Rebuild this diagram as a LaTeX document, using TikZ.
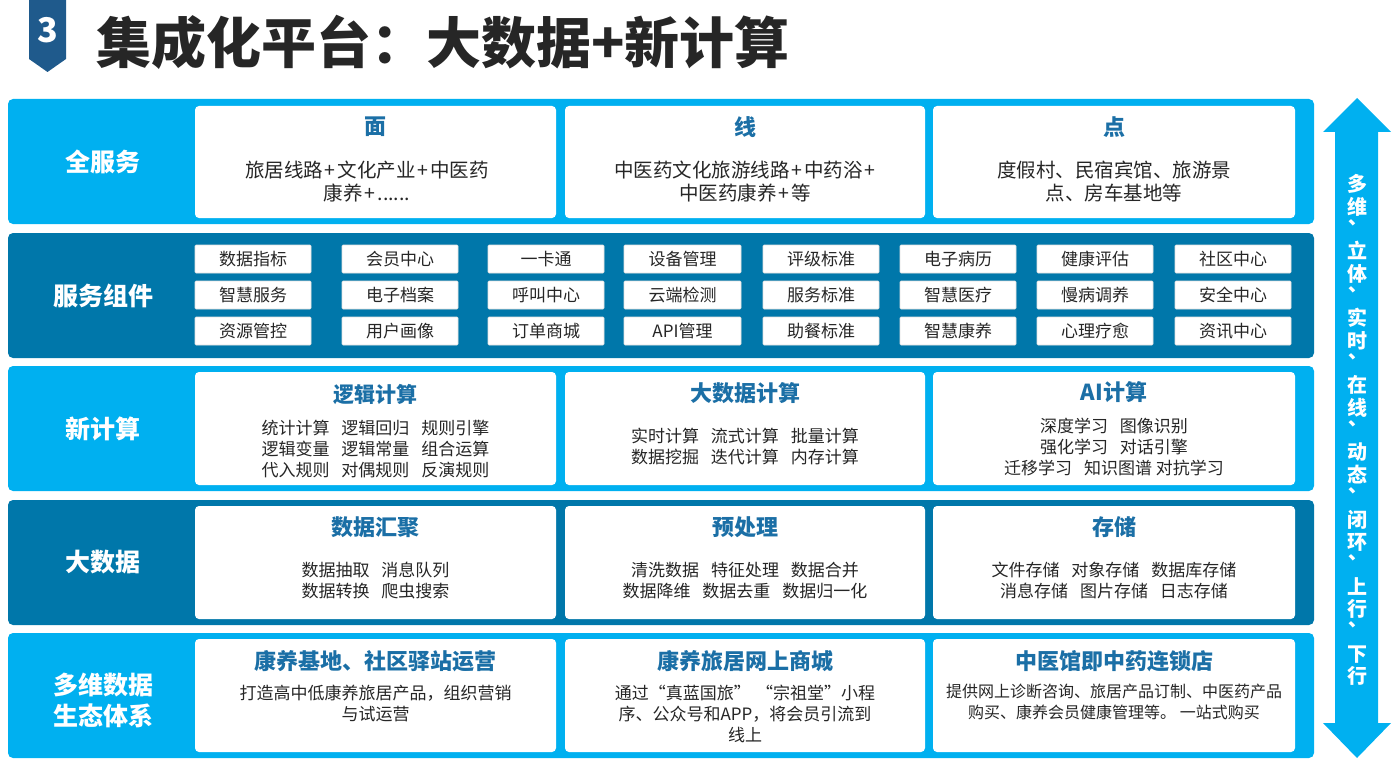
\documentclass[tikz,border=0pt]{standalone}
\usepackage{fontspec}
\setmainfont{Noto Sans CJK SC}
\definecolor{lb}{HTML}{00B0F0}
\definecolor{db}{HTML}{0077AA}
\definecolor{badge}{HTML}{1F5A8C}
\definecolor{tb}{HTML}{1B6FA6}
\definecolor{tx}{HTML}{262626}
\tikzset{
  lightband/.style={fill=lb, rounded corners=5pt},
  darkband/.style={fill=db, rounded corners=5pt},
  wbox/.style={fill=white, rounded corners=4pt},
  sbox/.style={fill=white, draw=black!12, line width=0.6pt, rounded corners=1pt},
  lbl/.style={text=white, font=\bfseries\fontsize{25}{31}\selectfont, align=center, inner sep=0pt},
  ttl/.style={text=tb, font=\bfseries\fontsize{22}{26}\selectfont, inner sep=0pt},
  body/.style={text=tx, font=\fontsize{17}{21}\selectfont, align=center, inner sep=0pt},
  topbody/.style={text=tx, font=\fontsize{19.5}{23}\selectfont, align=center, inner sep=0pt},
  stxt/.style={text=tx, font=\fontsize{17}{20}\selectfont, inner sep=0pt},
}
\newcommand{\gapsp}{\hspace{0.7em}}
\newcommand{\pl}{\hspace{0.1em}+\hspace{0.1em}}
\newcommand{\vcm}{\makebox[0pt]{\hspace*{-22pt}︑}}
\begin{document}
\begin{tikzpicture}[x=1pt,y=-1pt]
\useasboundingbox (0,0) rectangle (1393,781);
% badge and title
\fill[badge] (29,0) -- (66,0) -- (66,59) -- (47.5,72) -- (29,59) -- cycle;
\node[text=white, font=\bfseries\fontsize{34}{36}\selectfont, inner sep=0pt] (num) at (47.5,30) {3};
\node[text=tx, font=\bfseries\fontsize{55}{58}\selectfont, anchor=west, inner sep=0pt] (title) at (96,42) {集成化平台：大数据+新计算};

% bands
\fill[lightband] (8,99) rectangle (1314,224);
\fill[darkband] (8,233) rectangle (1314,358);
\fill[lightband] (8,366) rectangle (1314,491);
\fill[darkband] (8,500) rectangle (1314,625);
\fill[lightband] (8,633) rectangle (1314,758);

% left labels
\node[lbl] (l1) at (103,162) {全服务};
\node[lbl] (l2) at (103,296) {服务组件};
\node[lbl] (l3) at (103,429) {新计算};
\node[lbl] (l4) at (103,562) {大数据};
\node[lbl] (l5) at (103,700) {多维数据\\生态体系};

% white boxes
\foreach \a/\b/\n in {195/556/1,565/925/2,933/1295/3}{
  \fill[wbox] (\a,106) rectangle (\b,218);
  \fill[wbox] (\a,372) rectangle (\b,485);
  \fill[wbox] (\a,506) rectangle (\b,619);
  \fill[wbox] (\a,639) rectangle (\b,752);
}
\node[ttl] (t11) at (375.5,127) {面};
\node[ttl] (t12) at (745,127) {线};
\node[ttl] (t13) at (1114,127) {点};
\node[topbody] (b11) at (367,181.5) {旅居线路\pl 文化产业\pl 中医药\\康养\pl ......};
\node[topbody] (b12) at (745,181.5) {中医药文化旅游线路\pl 中药浴\pl\\中医药康养\pl 等};
\node[topbody] (b13) at (1114,181.5) {度假村、民宿宾馆、旅游景\\点、房车基地等};

% band 2 small boxes
\foreach \a/\b [count=\c] in {195/311,342/458,488/604,624/741,763/879,900/1016,1037/1153,1175/1291}{
  \fill[sbox] (\a,245) rectangle (\b,273);
  \fill[sbox] (\a,281) rectangle (\b,309);
  \fill[sbox] (\a,317) rectangle (\b,345);
}
\foreach \x/\p/\q/\r [count=\c] in {253/数据指标/智慧服务/资源管控,400/会员中心/电子档案/用户画像,546/一卡通/呼叫中心/订单商城,682.5/设备管理/云端检测/API管理,821/评级标准/服务标准/助餐标准,958/电子病历/智慧医疗/智慧康养,1095/健康评估/慢病调养/心理疗愈,1233/社区中心/安全中心/资讯中心}{
  \node[stxt] (s1\c) at (\x,259) {\p};
  \node[stxt] (s2\c) at (\x,295) {\q};
  \node[stxt] (s3\c) at (\x,331) {\r};
}

% band 3
\node[ttl, font=\bfseries\fontsize{21}{25}\selectfont] (t31) at (375.5,395) {逻辑计算};
\node[ttl] (t32) at (745,393) {大数据计算};
\node[ttl] (t33) at (1114,392) {AI计算};
\node[body] (b31) at (375.5,449) {统计计算\gapsp 逻辑回归\gapsp 规则引擎\\逻辑变量\gapsp 逻辑常量\gapsp 组合运算\\代入规则\gapsp 对偶规则\gapsp 反演规则};
\node[body] (b32) at (745,446.5) {实时计算\gapsp 流式计算\gapsp 批量计算\\数据挖掘\gapsp 迭代计算\gapsp 内存计算};
\node[body] (b33) at (1114,447) {深度学习\gapsp 图像识别\\强化学习\gapsp 对话引擎\\迁移学习\gapsp 知识图谱 对抗学习};

% band 4
\node[ttl] (t41) at (375.5,527) {数据汇聚};
\node[ttl] (t42) at (745,527) {预处理};
\node[ttl] (t43) at (1114,527) {存储};
\node[body] (b41) at (375.5,580.5) {数据抽取\gapsp 消息队列\\数据转换\gapsp 爬虫搜索};
\node[body] (b42) at (745,580.5) {清洗数据\gapsp 特征处理\gapsp 数据合并\\数据降维\gapsp 数据去重\gapsp 数据归一化};
\node[body] (b43) at (1114,580.5) {文件存储\gapsp 对象存储\gapsp 数据库存储\\消息存储\gapsp 图片存储\gapsp 日志存储};

% band 5
\node[ttl] (t51) at (375.5,661) {康养基地、社区驿站运营};
\node[ttl] (t52) at (745,661) {康养旅居网上商城};
\node[ttl] (t53) at (1114,661) {中医馆即中药连锁店};
\node[body] (b51) at (375.5,703.5) {打造高中低康养旅居产品，组织营销\\与试运营};
\node[body] (b52) at (745,714) {通过“真蓝国旅”\hspace{0.3em}“宗祖堂”小程\\序、公众号和APP，将会员引流到\\线上};
\node[body, font=\fontsize{16}{20.5}\selectfont] (b53) at (1114,702) {提供网上诊断咨询、旅居产品订制、中医药产品\\购买、康养会员健康管理等。 一站式购买};

% double arrow
\fill[lb] (1357,98) -- (1391,132) -- (1378,132) -- (1378,723) -- (1391,723) -- (1357,758) -- (1323,723) -- (1335,723) -- (1335,132) -- (1323,132) -- cycle;
\node[text=white, font=\bfseries\fontsize{20}{22.35}\selectfont, align=center, inner sep=0pt] (vt) at (1357,430)
  {多\\维\\\vcm\\立\\体\\\vcm\\实\\时\\\vcm\\在\\线\\\vcm\\动\\态\\\vcm\\闭\\环\\\vcm\\上\\行\\\vcm\\下\\行};
\end{tikzpicture}
\end{document}
